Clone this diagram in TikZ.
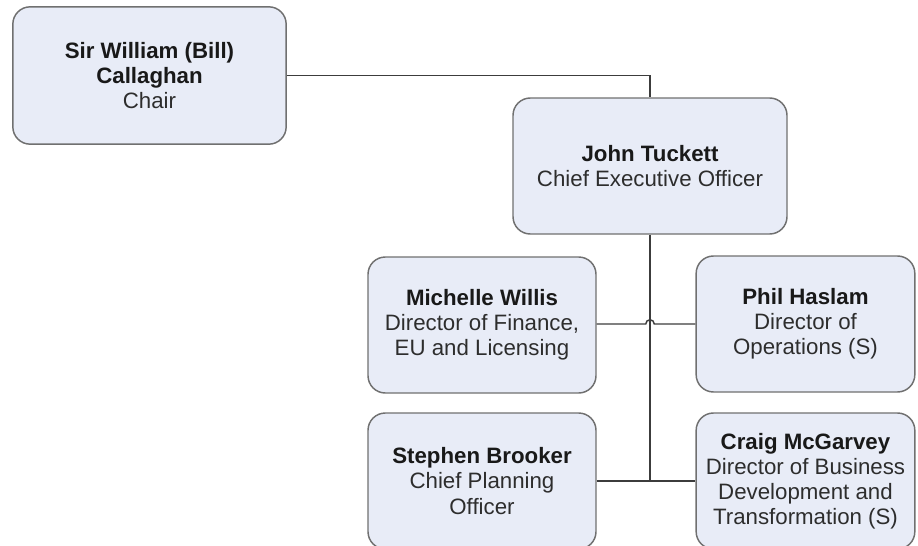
\documentclass[tikz,border=0pt]{standalone}
\usepackage{fontspec}
\setmainfont{Liberation Sans}
\definecolor{boxfill}{RGB}{232,236,247}
\definecolor{boxline}{RGB}{112,112,112}
\definecolor{wire}{RGB}{60,60,60}
\definecolor{nametext}{RGB}{25,25,25}
\definecolor{roletext}{RGB}{45,45,45}
% bold name on the first line, then the role in regular weight
\newcommand{\orgname}[1]{\textcolor{nametext}{\textbf{#1}}}
\begin{document}
\begin{tikzpicture}[x=0.75pt,y=-0.75pt,
  orgbox/.style={draw=boxline, fill=boxfill, line width=1.1pt,
    rounded corners=13pt, align=center, inner sep=0pt, text=roletext,
    font=\fontsize{16.7}{18.8}\selectfont},
  link/.style={draw=wire, line width=1.1pt}]
  \useasboundingbox (0,0) rectangle (918,546);
  \clip (0,0) rectangle (918,546);

  % people
  \node[orgbox, minimum width=205pt, minimum height=103pt] (chair) at (149.5,75.5)
    {\orgname{Sir William (Bill)}\\\orgname{Callaghan}\\Chair};
  \node[orgbox, minimum width=205.5pt, minimum height=102pt] (ceo) at (650,166)
    {\orgname{John Tuckett}\\Chief Executive Officer};
  \node[orgbox, minimum width=171pt, minimum height=102pt] (finance) at (482,325)
    {\orgname{Michelle Willis}\\Director of Finance,\\EU and Licensing};
  \node[orgbox, minimum width=164pt, minimum height=102pt] (ops) at (805.5,324)
    {\orgname{Phil Haslam}\\Director of\\Operations (S)};
  \node[orgbox, minimum width=171pt, minimum height=102pt] (planning) at (482,481)
    {\orgname{Stephen Brooker}\\Chief Planning\\Officer};
  \node[orgbox, minimum width=164pt, minimum height=102pt] (bizdev) at (805.5,481)
    {\orgname{Craig McGarvey}\\Director of Business\\Development and\\Transformation (S)};

  % reporting lines
  \coordinate (hop) at (ceo.south |- ops.west);
  \coordinate (j) at (ceo.south |- planning.east);
  \draw[link] (chair.east) -| (ceo.north);
  \draw[link] (ceo.south) -- (j);
  \draw[link] (planning.east) -- (bizdev.west);
  \draw[link] (finance.east |- ops.west) -- ([xshift=-3.2pt]hop)
    arc[start angle=180, end angle=0, radius=3.2pt] -- (ops.west);
\end{tikzpicture}
\end{document}
